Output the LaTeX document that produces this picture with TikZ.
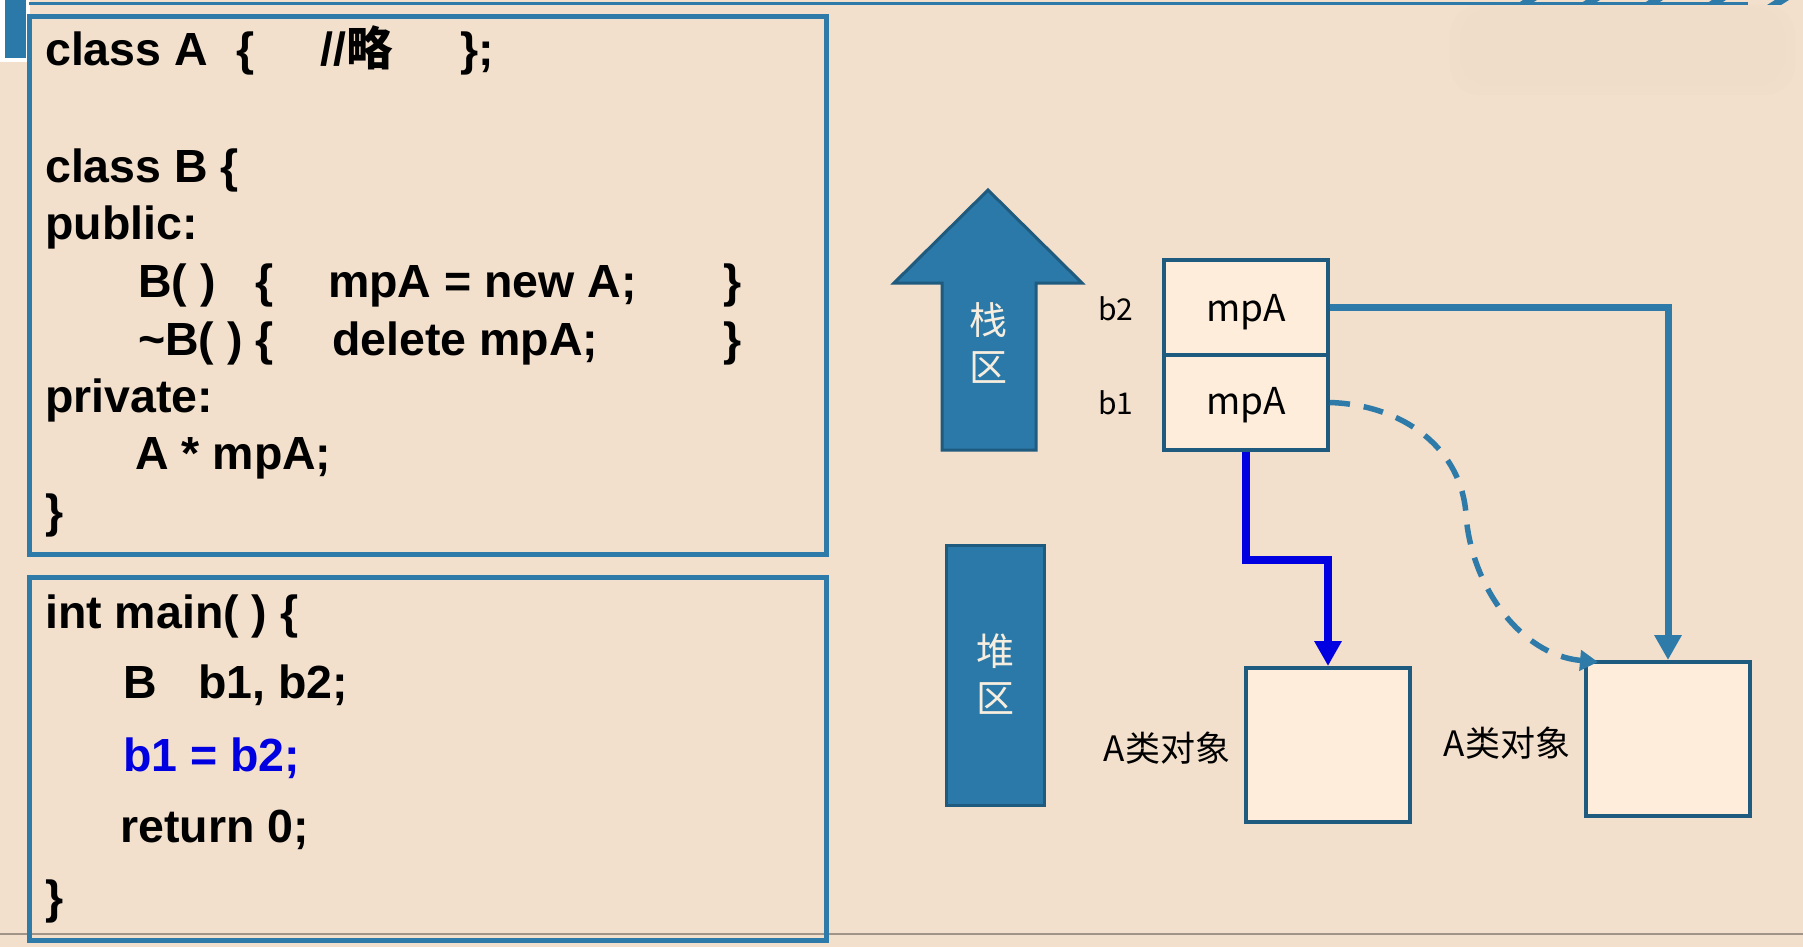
\documentclass[tikz,border=0pt]{standalone}
\usepackage{fontspec}
\setmainfont{Liberation Sans}
\newfontfamily\cjk{Noto Sans CJK SC}
\usetikzlibrary{arrows.meta}
\definecolor{bg}{HTML}{F2E0CC}
\definecolor{cream}{HTML}{FDEDDA}
\definecolor{dkblue}{HTML}{1F5A7F}
\definecolor{teal}{HTML}{2E7BAA}
\definecolor{arrowfill}{HTML}{2B79A8}
\definecolor{pureblue}{HTML}{0000E0}
\definecolor{lighttext}{HTML}{F7EEDF}
\definecolor{graylinec}{HTML}{A09488}
\begin{document}
\begin{tikzpicture}[x=1pt,y=-1pt,
  code/.style={anchor=base west,inner sep=0pt,font=\fontsize{46.5}{55}\selectfont\bfseries},
  codebox/.style={draw=teal,line width=5pt,anchor=north west,minimum width=797pt,inner sep=0pt},
  membox/.style={draw=dkblue,fill=cream,line width=4pt,minimum width=164pt,inner sep=0pt},
  areatext/.style={text=lighttext,font=\cjk\fontsize{38}{40}\selectfont,inner sep=0pt},
  smalllabel/.style={font=\cjk\fontsize{30}{32}\selectfont,inner sep=0pt},
  memtext/.style={font=\cjk\fontsize{37}{40}\selectfont},
  objlabel/.style={font=\cjk\fontsize{35}{38}\selectfont,inner sep=0pt}
]
\useasboundingbox (0,0) rectangle (1803,947);
\fill[bg] (0,0) rectangle (1803,947);
% faint shadow top right
\foreach \i in {0,...,3}{
  \fill[black!1.2!bg,opacity=0.6,rounded corners=30pt] (1450+10*\i,5+3*\i) rectangle (1795-10*\i,95-9*\i);
}
% top decorations
\fill[white] (0,0) rectangle (30,62);
\fill[arrowfill] (5,0) rectangle (26,58);
\draw[teal,line width=3pt] (29,4) -- (1748,4);
\foreach \k in {0,...,4}{
  \fill[teal] (1523+63*\k,0) -- (1537+63*\k,0) -- (1529+63*\k,5) -- (1515+63*\k,5) -- cycle;
}
% bottom gray line
\draw[graylinec,line width=2pt] (0,934) -- (1803,934);

% code boxes
\node[codebox,minimum height=538pt] (box1) at (27,14) {};
\node[codebox,minimum height=363pt] (box2) at (27,575) {};

% class code
\node[code] (a1) at (45,66) {class A};
\node[code] (a2) at (236,66) {\{};
\node[code] (a3) at (320,66) {//{\cjk\bfseries 略}};
\node[code] (a4) at (460,66) {\};};
\node[code] (b1l) at (45,182) {class B \{};
\node[code] (b2l) at (45,239) {public:};
\node[code] (b3a) at (138,297) {B( )};
\node[code] (b3b) at (255,297) {\{};
\node[code] (b3c) at (328,297) {mpA = new A;};
\node[code] (b3d) at (723,297) {\}};
\node[code] (b4a) at (138,355) {\textasciitilde B( ) \{};
\node[code] (b4c) at (332,355) {delete mpA;};
\node[code] (b4d) at (723,355) {\}};
\node[code] (b5) at (45,412) {private:};
\node[code] (b6) at (135,469) {A * mpA;};
\node[code] (b7) at (45,527) {\}};

% main code
\node[code] (m1) at (45,628) {int main( ) \{};
\node[code] (m2a) at (123,698) {B};
\node[code] (m2b) at (198,698) {b1, b2;};
\node[code,text=pureblue] (m3) at (123,771) {b1 = b2;};
\node[code] (m4) at (120,842) {return 0;};
\node[code] (m5) at (45,913) {\}};

% stack arrow
\filldraw[fill=arrowfill,draw=dkblue,line width=3pt,line join=miter]
  (988,190) -- (1082,283) -- (1036,283) -- (1036,450) -- (942,450) -- (942,283) -- (894,283) -- cycle;
\node[areatext] (s1) at (988,320) {栈};
\node[areatext] (s2) at (988,368) {区};
% heap block
\filldraw[fill=arrowfill,draw=dkblue,line width=3pt] (946,545) rectangle (1044,805);
\node[areatext] (h1) at (995,651) {堆};
\node[areatext] (h2) at (995,699) {区};

% member boxes
\node[membox,minimum height=95pt] (mb2) at (1246,307.5) {};
\node[membox,minimum height=95pt] (mb1) at (1246,402.5) {};
\node[memtext] (t2) at (1246,312) {mpA};
\node[memtext] (t1) at (1246,405) {mpA};
\node[smalllabel] (l2) at (1116,309) {b2};
\node[smalllabel] (l1) at (1116,403) {b1};

% A objects
\node[membox,minimum height=154pt] (oa) at (1328,745) {};
\node[membox,minimum height=154pt] (ob) at (1668,739) {};
\node[objlabel] (la) at (1167,748) {A类对象};
\node[objlabel] (lb) at (1507,743) {A类对象};

% connectors
\coordinate (bend) at (1328,560);
\draw[pureblue,line width=8pt,-{Triangle[width=26pt,length=25pt]}]
  (mb1.south) |- (bend) -- (oa.north);
\draw[teal,line width=7pt,-{Triangle[width=26pt,length=25pt]}]
  (mb2.east) -| (ob.north);
\draw[teal,line width=5.5pt,dash pattern=on 20pt off 14pt,-{Triangle[width=20pt,length=18pt]}]
  (mb1.east) .. controls (1405,405) and (1462,450) .. (1466,515)
  .. controls (1471,585) and (1520,655) .. ([xshift=14pt,yshift=-2pt]ob.north west);
\end{tikzpicture}
\end{document}
